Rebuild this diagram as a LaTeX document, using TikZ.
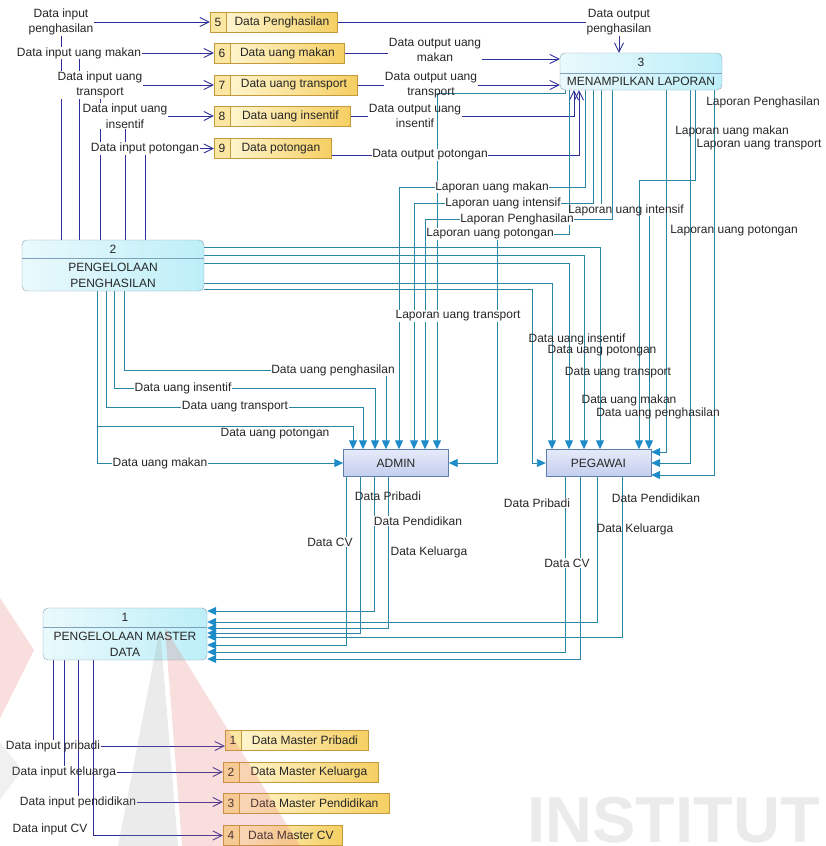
\documentclass[tikz,border=0pt]{standalone}
\usepackage{fontspec}
\setmainfont{Liberation Sans}
\usetikzlibrary{positioning}
\usetikzlibrary{arrows.meta}
\pgfdeclarelayer{edges}
\pgfsetlayers{edges,main}

\definecolor{navyline}{HTML}{2E2E9A}
\definecolor{tealline}{HTML}{2A86A4}
\definecolor{tealtip}{HTML}{1E8CC8}
\definecolor{procleft}{HTML}{EAF9FC}
\definecolor{procright}{HTML}{BDEFF8}
\definecolor{procdraw}{HTML}{7FA2BC}
\definecolor{enttop}{HTML}{E6EBFA}
\definecolor{entbottom}{HTML}{C3CDEE}
\definecolor{entdraw}{HTML}{5E7FAE}
\definecolor{storeleft}{HTML}{FFF4CC}
\definecolor{storeright}{HTML}{F5CF62}
\definecolor{storenumfill}{HTML}{FBE6A2}
\definecolor{storedraw}{HTML}{C49A3C}
\definecolor{markred}{HTML}{E46A6A}
\definecolor{markgray}{HTML}{9A9A9A}

\begin{document}
\begin{tikzpicture}[x=1pt, y=-1pt,
    every node/.style={font=\fontsize{12}{15.5}\selectfont, text=black!85},
    proc/.style={draw=procdraw, rounded corners=5pt, left color=procleft, right color=procright, inner sep=0},
    procline/.style={draw=procdraw},
    entity/.style={draw=entdraw, top color=enttop, bottom color=entbottom, minimum width=105pt, minimum height=27pt, inner sep=0},
    storenum/.style={draw=storedraw, fill=storenumfill, minimum width=16pt, minimum height=20pt, inner sep=0},
    storebox/.style={draw=storedraw, left color=storeleft, right color=storeright, minimum height=20pt, inner sep=0},
    lbl/.style={fill=white, inner sep=0.5pt, align=center},
    lblt/.style={inner sep=0.5pt, align=center},
    inflow/.style={draw=navyline, line width=0.9pt, -{Straight Barb[length=9pt,width=9pt]}},
    outflow/.style={draw=tealline, line width=0.9pt, -{Triangle[length=9pt,width=8pt,color=tealtip]}}]
    \useasboundingbox (0,0) rectangle (826,846);

    % Watermark tulisan
    \node[font=\fontsize{65}{65}\selectfont\bfseries, text=black!8, anchor=south east, inner sep=0] (wmtext) at (820,843) {INSTITUT};

    % Proses
    \node[proc, minimum width=182pt, minimum height=51pt] (p2) at (113,265.5) {};
    \draw[procline] (p2.west |- 0,258) -- (p2.east |- 0,258);
    \node (p2num) at (113,249) {2};
    \node[align=center] (p2name) at (113,275.5) {PENGELOLAAN\\PENGHASILAN};

    \node[proc, minimum width=162pt, minimum height=37pt] (p3) at (641,71.5) {};
    \draw[procline] (p3.west |- 0,73) -- (p3.east |- 0,73);
    \node (p3num) at (641,62) {3};
    \node (p3name) at (641,81.5) {MENAMPILKAN LAPORAN};

    \node[proc, minimum width=164pt, minimum height=52pt] (p1) at (125,634) {};
    \draw[procline] (p1.west |- 0,627) -- (p1.east |- 0,627);
    \node (p1num) at (125,617.5) {1};
    \node[align=center] (p1name) at (125,644.5) {PENGELOLAAN MASTER\\DATA};

    % Entitas
    \node[entity] (ad) at (396,463) {ADMIN};
    \node[entity] (pg) at (598.5,463) {PEGAWAI};

    % Data store
    \node[storenum] (s5n) at (218,22) {5};
    \node[storebox, minimum width=111pt, right=0pt of s5n] (s5) {Data Penghasilan};
    \node[storenum] (s6n) at (222,53) {6};
    \node[storebox, minimum width=114pt, right=0pt of s6n] (s6) {Data uang makan};
    \node[storenum] (s7n) at (222,85) {7};
    \node[storebox, minimum width=127pt, right=0pt of s7n] (s7) {Data uang transport};
    \node[storenum] (s8n) at (222,116) {8};
    \node[storebox, minimum width=120pt, right=0pt of s8n] (s8) {Data uang insentif};
    \node[storenum] (s9n) at (222,148.5) {9};
    \node[storebox, minimum width=101pt, right=0pt of s9n] (s9) {Data potongan};

    \node[storenum] (m1n) at (233,740) {1};
    \node[storebox, minimum width=127pt, right=0pt of m1n] (m1) {Data Master Pribadi};
    \node[storenum] (m2n) at (231,772) {2};
    \node[storebox, minimum width=139pt, right=0pt of m2n] (m2) {Data Master Keluarga};
    \node[storenum] (m3n) at (231,803) {3};
    \node[storebox, minimum width=150pt, right=0pt of m3n] (m3) {Data Master Pendidikan};
    \node[storenum] (m4n) at (231,835.5) {4};
    \node[storebox, minimum width=103pt, right=0pt of m4n] (m4) {Data Master CV};

    % Label alur input
    \node[lbl] (iPeng) at (61,22) {Data input\\penghasilan};
    \node[lbl] (iMakan) at (79,53) {Data input uang makan};
    \node[lbl] (iTrans) at (100,85) {Data input uang\\transport};
    \node[lbl] (iIns) at (125,116) {Data input uang\\insentif};
    \node[lbl] (iPot) at (145,148.5) {Data input potongan};

    % Label alur output
    \node[lbl] (oPeng) at (619,22) {Data output\\penghasilan};
    \node[lbl] (oMakan) at (435,50) {Data output uang\\makan};
    \node[lblt] (oTrans) at (431,85) {Data output uang\\transport};
    \node[lblt] (oIns) at (415,116) {Data output uang\\insentif};
    \node[lbl] (oPot) at (430,155) {Data output potongan};

    % Label laporan ke admin
    \node[lbl] (lMakanA) at (492,187) {Laporan uang makan};
    \node[lbl] (lIntA) at (503,203) {Laporan uang intensif};
    \node[lbl] (lPengA) at (517,219) {Laporan Penghasilan};
    \node[lbl] (lPotA) at (490,234) {Laporan uang potongan};
    \node[lbl] (lTransA) at (458,316) {Laporan uang transport};

    % Label laporan ke pegawai
    \node[lblt] (lPengP) at (763,102) {Laporan Penghasilan};
    \node[lblt] (lMakanP) at (732,131) {Laporan uang makan};
    \node[lblt] (lTransP) at (759,145) {Laporan uang transport};
    \node[lblt] (lIntP) at (626,210) {Laporan uang intensif};
    \node[lblt] (lPotP) at (734,231) {Laporan uang potongan};

    % Label data uang ke admin
    \node[lbl] (uPengA) at (333,370) {Data uang penghasilan};
    \node[lbl] (uInsA) at (183,388) {Data uang insentif};
    \node[lbl] (uTransA) at (235,407) {Data uang transport};
    \node[lbl] (uPotA) at (275,434) {Data uang potongan};
    \node[lbl] (uMakanA) at (160,463) {Data uang makan};

    % Label data uang ke pegawai
    \node[lblt] (uInsP) at (577,339) {Data uang insentif};
    \node[lblt] (uPotP) at (602,351) {Data uang potongan};
    \node[lblt] (uTransP) at (618,373) {Data uang transport};
    \node[lblt] (uMakanP) at (629,400) {Data uang makan};
    \node[lblt] (uPengP) at (658,413) {Data uang penghasilan};

    % Label data master
    \node[lblt] (dPriA) at (388,496) {Data Pribadi};
    \node[lbl] (dPendA) at (418,521) {Data Pendidikan};
    \node[lbl] (dCVA) at (330,542) {Data CV};
    \node[lbl] (dKelA) at (429,552) {Data Keluarga};
    \node[lbl] (dPriP) at (537,503) {Data Pribadi};
    \node[lblt] (dPendP) at (656,498) {Data Pendidikan};
    \node[lblt] (dKelP) at (635,529) {Data Keluarga};
    \node[lbl] (dCVP) at (567,563) {Data CV};

    \node[lblt] (iPri) at (53,746) {Data input pribadi};
    \node[lblt] (iKel) at (64,772) {Data input keluarga};
    \node[lblt] (iPend) at (78,802) {Data input pendidikan};
    \node[lblt] (iCV) at (50,829) {Data input CV};

    \begin{pgfonlayer}{edges}
    % Input ke data store
    \draw[inflow] (p2.north -| iPeng) -- (iPeng) -- (iPeng -| s5n.west);
    \draw[inflow] (p2.north -| iMakan) -- (iMakan) -- (iMakan -| s6n.west);
    \draw[inflow] (p2.north -| iTrans) -- (iTrans) -- (iTrans -| s7n.west);
    \draw[inflow] (p2.north -| iIns) -- (iIns) -- (iIns -| s8n.west);
    \draw[inflow] (p2.north -| iPot) -- (iPot) -- (iPot -| s9n.west);

    % Output ke proses 3
    \draw[inflow] (s5.east) -- (oPeng) -- (oPeng |- p3.north);
    \draw[inflow] (s6.east) -- (s6.east -| oMakan.west) (oMakan.east |- 0,59) -- (p3.west |- 0,59);
    \draw[inflow] (s7.east) -- (oTrans) -- (oTrans -| p3.west);
    \coordinate (cIns) at (574,116);
    \draw[inflow] (s8.east) -- (oIns) -- (cIns) -- (cIns |- p3.south);
    \coordinate (cPot) at (579,155);
    \draw[inflow] (s9.east |- cPot) -- (oPot) -- (cPot) -- (cPot |- p3.south);

    % Laporan ke admin
    \draw[outflow] (p3.south -| 585,0) |- (lMakanA) -| (ad.north -| 399,0);
    \draw[outflow] (p3.south -| 593,0) |- (lIntA) -| (ad.north -| 414,0);
    \draw[outflow] (p3.south -| 612,0) |- (lPengA) -| (ad.north -| 425,0);
    \draw[outflow] (p3.south -| 565,0) -- (565,93) -| (ad.north -| 437,0);
    \coordinate (cPotA) at (497,234);
    \draw[outflow] (p3.south -| 569,0) |- (cPotA) |- (ad.east);

    % Laporan ke pegawai
    \coordinate (cMakanP) at (639,180);
    \draw[outflow] (p3.south -| 695,0) |- (cMakanP) -- (pg.north -| cMakanP);
    \draw[outflow] (p3.south -| 601,0) -- (lIntP.north -| 601,0) (lIntP.south -| 649,0) -- (pg.north -| 649,0);
    \draw[outflow] (p3.south -| 666,0) |- (pg.east |- 0,452);
    \draw[outflow] (p3.south -| 690,0) |- (pg.east |- 0,463);
    \draw[outflow] (p3.south -| 714,0) |- (pg.east |- 0,475);

    % Data uang ke admin
    \draw[outflow] (p2.south -| 124,0) |- (uPengA) (uPengA.south -| 386,0) -- (ad.north -| 386,0);
    \draw[outflow] (p2.south -| 114,0) |- (uInsA) -| (ad.north -| 375,0);
    \draw[outflow] (p2.south -| 106,0) |- (uTransA) -| (ad.north -| 363,0);
    \coordinate (cPotU) at (353,426);
    \draw[outflow] (p2.south -| 97,0) |- (cPotU) -- (ad.north -| cPotU);
    \draw[outflow] (p2.south -| 97,0) |- (uMakanA) -- (ad);

    % Data uang ke pegawai
    \draw[outflow] (p2.east |- 0,247) -| (pg.north -| 600,0);
    \draw[outflow] (p2.east |- 0,255) -| (pg.north -| 584,0);
    \draw[outflow] (p2.east |- 0,263) -| (pg.north -| 569,0);
    \draw[outflow] (p2.east |- 0,283) -| (pg.north -| 552,0);
    \draw[outflow] (p2.east |- 0,289) -| (pg.west -| 532,0) -- (pg.west);

    % Data master ke proses 1
    \draw[outflow] (ad.south -| 374,0) |- (p1.east |- 0,611);
    \draw[outflow] (ad.south -| 388,0) |- (p1.east |- 0,628);
    \draw[outflow] (ad.south -| 360,0) |- (p1.east |- 0,633);
    \draw[outflow] (ad.south -| 346,0) |- (p1.east |- 0,645);
    \draw[outflow] (pg.south -| 597,0) |- (p1.east |- 0,622);
    \draw[outflow] (pg.south -| 622,0) |- (p1.east |- 0,637);
    \draw[outflow] (pg.south -| 565,0) |- (p1.east |- 0,652);
    \draw[outflow] (pg.south -| 580,0) |- (p1.east |- 0,659);

    % Input data master
    \draw[inflow] (p1.south -| iPri) -- (iPri) -- (iPri -| m1n.west);
    \draw[inflow] (p1.south -| iKel) -- (iKel) -- (iKel -| m2n.west);
    \draw[inflow] (p1.south -| iPend) -- (iPend) -- (iPend -| m3n.west);
    \draw[inflow] (p1.south -| 93,0) |- (m4n.west);
    \end{pgfonlayer}

    % Watermark logo
    \fill[markred, opacity=0.22] (0,598) -- (34,650) -- (0,718) -- cycle;
    \fill[markred, opacity=0.22] (165,628) -- (300,846) -- (182,846) -- cycle;
    \fill[markgray, opacity=0.2] (160,628) -- (178,846) -- (118,846) -- cycle;
    \fill[markgray, opacity=0.15] (0,742) -- (22,770) -- (0,800) -- cycle;
\end{tikzpicture}
\end{document}
